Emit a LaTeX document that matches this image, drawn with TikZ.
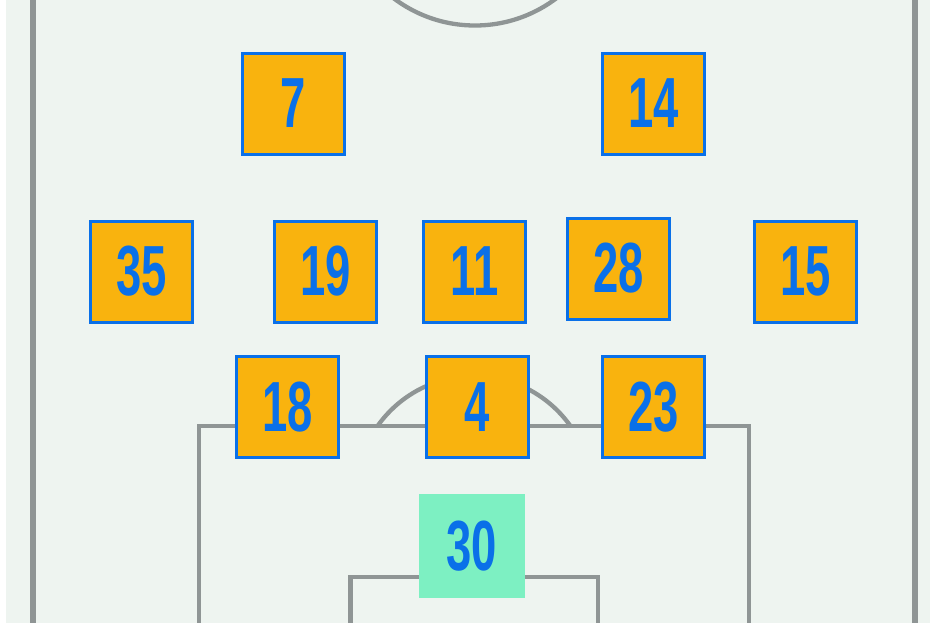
\documentclass[tikz,border=0pt]{standalone}
\usepackage{fontspec}
\newfontfamily\numfont{Liberation Sans Bold}[FakeStretch=0.64]
\definecolor{bgc}{HTML}{EEF4F0}
\definecolor{linec}{HTML}{8F9595}
\definecolor{boxfill}{HTML}{F9B30E}
\definecolor{boxblue}{HTML}{0A70E8}
\definecolor{keeperfill}{HTML}{7DF0C2}
\tikzset{
  fieldline/.style={draw=linec, line width=4.3},
  player/.style={draw=boxblue, line width=3, fill=boxfill, minimum width=102, minimum height=101, inner sep=0pt, text=boxblue, font=\numfont\fontsize{71}{71}\selectfont},
  keeper/.style={fill=keeperfill, minimum width=106, minimum height=104, inner sep=0pt, text=boxblue, font=\numfont\fontsize{71}{71}\selectfont}
}
\begin{document}
\begin{tikzpicture}[x=1pt,y=-1pt]
\useasboundingbox (0,0) rectangle (930,622);
\clip (0,0) rectangle (930,622);
\fill[bgc] (6,-10) rectangle (940,640);
% outer touchlines
\draw[fieldline, line width=6] (33,-10) -- (33,640);
\draw[fieldline, line width=6] (915,-10) -- (915,640);
% centre circle
\draw[fieldline] (475,-109.5) circle (135);
% penalty arc
\begin{scope}
\clip (0,0) rectangle (930,426);
\draw[fieldline] (474,494) circle (118);
\end{scope}
% penalty box
\draw[fieldline] (199,640) -- (199,426) -- (749,426) -- (749,640);
% goal area
\draw[fieldline] (350.5,640) -- (350.5,577) -- (597.7,577) -- (597.7,640);
% players
\node[player] (p7)  at (293.5,103.5) {7};
\node[player] (p14) at (653.5,103.5) {14};
\node[player] (p35) at (141.5,271.5) {35};
\node[player] (p19) at (325.5,271.5) {19};
\node[player] (p11) at (474.5,271.5) {11};
\node[player] (p28) at (618.5,268.5) {28};
\node[player] (p15) at (805.5,271.5) {15};
\node[player] (p18) at (287.5,407) {18};
\node[player] (p4)  at (477.5,407) {4};
\node[player] (p23) at (653.5,407) {23};
\node[keeper] (p30) at (472,546) {30};
\end{tikzpicture}
\end{document}
